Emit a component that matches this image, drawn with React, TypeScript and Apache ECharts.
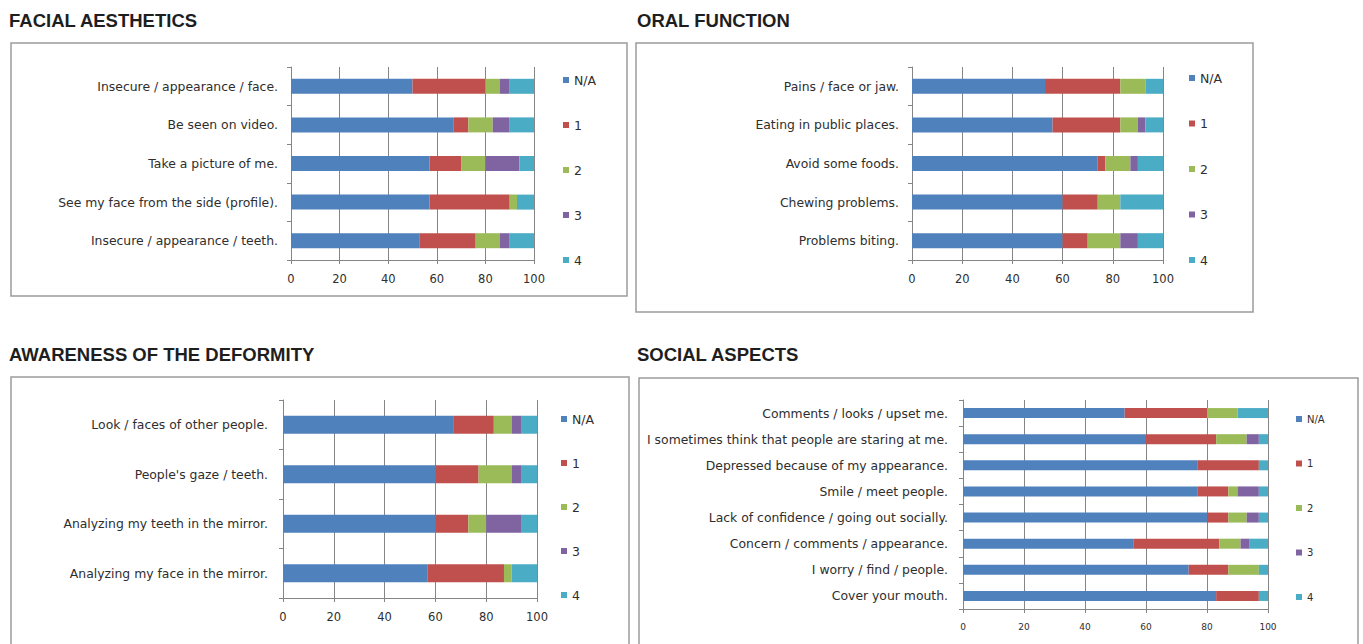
import React, { useEffect, useRef } from "react";
import * as echarts from "echarts";

const seriesNames = ["N/A", "1", "2", "3", "4"];
const seriesColors = ["#4F81BD", "#C0504D", "#9BBB59", "#8064A2", "#4BACC6"];
const xTicks = [0, 20, 40, 60, 80, 100];

const panelTitles = ["FACIAL AESTHETICS", "ORAL FUNCTION", "AWARENESS OF THE DEFORMITY", "SOCIAL ASPECTS"];

const facialCategories = [
  "Insecure / appearance / face.",
  "Be seen on video.",
  "Take a picture of me.",
  "See my face from the side (profile).",
  "Insecure / appearance / teeth.",
];
const facialNA = [50, 67, 57, 57, 53];
const facial1 = [30, 6, 13, 33, 23];
const facial2 = [6, 10, 10, 3, 10];
const facial3 = [4, 7, 14, 0, 4];
const facial4 = [10, 10, 6, 7, 10];

const oralCategories = [
  "Pains / face or jaw.",
  "Eating in public places.",
  "Avoid some foods.",
  "Chewing problems.",
  "Problems biting.",
];
const oralNA = [53, 56, 74, 60, 60];
const oral1 = [30, 27, 3, 14, 10];
const oral2 = [10, 7, 10, 9, 13];
const oral3 = [0, 3, 3, 0, 7];
const oral4 = [7, 7, 10, 17, 10];

const awareCategories = [
  "Look / faces of other people.",
  "People's gaze / teeth.",
  "Analyzing my teeth in the mirror.",
  "Analyzing my face in the mirror.",
];
const awareNA = [67, 60, 60, 57];
const aware1 = [16, 17, 13, 30];
const aware2 = [7, 13, 7, 3];
const aware3 = [4, 4, 14, 0];
const aware4 = [6, 6, 6, 10];

const socialCategories = [
  "Comments / looks / upset me.",
  "I sometimes think that people are staring at me.",
  "Depressed because of my appearance.",
  "Smile / meet people.",
  "Lack of confidence / going out socially.",
  "Concern / comments / appearance.",
  "I worry / find / people.",
  "Cover your mouth.",
];
const socialNA = [53, 60, 77, 77, 80, 56, 74, 83];
const social1 = [27, 23, 20, 10, 7, 28, 13, 14];
const social2 = [10, 10, 0, 3, 6, 7, 10, 0];
const social3 = [0, 4, 0, 7, 4, 3, 0, 0];
const social4 = [10, 3, 3, 3, 3, 6, 3, 3];

const FONT = "'DejaVu Sans', 'Open Sans', sans-serif";
const TEXT = "#2e2e2e";
const GRIDLINE = "#858585";

export default function App() {
  const ref = useRef<HTMLDivElement>(null);

  useEffect(() => {
    if (!ref.current) return;
    const chart = echarts.init(ref.current, null, { renderer: "svg" });

    const panels = [
      { cats: facialCategories, data: [facialNA, facial1, facial2, facial3, facial4],
        grid: { left: 291, top: 67, width: 243, height: 193 }, barWidth: 15, labelSize: 12.4, axisSize: 11.5, labelMargin: 13, axisMargin: 13,
        legend: { left: 563, top: 73, gap: 31, size: 12.5, lh: 14 } },
      { cats: oralCategories, data: [oralNA, oral1, oral2, oral3, oral4],
        grid: { left: 912, top: 67, width: 251, height: 193 }, barWidth: 15, labelSize: 12.4, axisSize: 11.5, labelMargin: 13, axisMargin: 13,
        legend: { left: 1189, top: 71, gap: 31.5, size: 12.5, lh: 14 } },
      { cats: awareCategories, data: [awareNA, aware1, aware2, aware3, aware4],
        grid: { left: 283, top: 400, width: 254, height: 198 }, barWidth: 18, labelSize: 12.4, axisSize: 11.5, labelMargin: 15, axisMargin: 13,
        legend: { left: 561, top: 412, gap: 30, size: 12.5, lh: 14 } },
      { cats: socialCategories, data: [socialNA, social1, social2, social3, social4],
        grid: { left: 963, top: 400, width: 305, height: 209 }, barWidth: 10, labelSize: 12.4, axisSize: 9, labelMargin: 15, axisMargin: 13,
        legend: { left: 1296, top: 413, gap: 32.5, size: 10, lh: 12 } },
    ];

    const grids: any[] = [];
    const xAxes: any[] = [];
    const yAxes: any[] = [];
    const series: any[] = [];
    const legends: any[] = [];

    panels.forEach((p, i) => {
      grids.push({ ...p.grid, containLabel: false });
      xAxes.push({
        type: "value",
        gridIndex: i,
        min: xTicks[0],
        max: xTicks[xTicks.length - 1],
        interval: xTicks[1] - xTicks[0],
        axisLine: { show: true, lineStyle: { color: GRIDLINE, width: 1 } },
        axisTick: { show: true, length: 4, lineStyle: { color: GRIDLINE } },
        axisLabel: { color: TEXT, fontSize: p.axisSize, fontFamily: FONT, margin: p.axisMargin },
        splitLine: { show: true, lineStyle: { color: GRIDLINE, width: 1 } },
      });
      yAxes.push({
        type: "category",
        gridIndex: i,
        inverse: true,
        data: p.cats,
        axisLine: { show: true, lineStyle: { color: GRIDLINE, width: 1 } },
        axisTick: { show: true, length: 4, lineStyle: { color: GRIDLINE } },
        axisLabel: { color: TEXT, fontSize: p.labelSize, fontFamily: FONT, margin: p.labelMargin },
        splitLine: { show: false },
      });
      p.data.forEach((arr, k) => {
        series.push({
          type: "bar",
          name: seriesNames[k],
          xAxisIndex: i,
          yAxisIndex: i,
          stack: "panel" + i,
          barWidth: p.barWidth,
          data: arr,
          itemStyle: { color: seriesColors[k] },
        });
      });
      legends.push({
        orient: "vertical",
        left: p.legend.left,
        top: p.legend.top,
        padding: 0,
        itemGap: p.legend.gap,
        itemWidth: 6,
        itemHeight: 6,
        icon: "rect",
        data: seriesNames,
        textStyle: { color: TEXT, fontSize: p.legend.size, fontFamily: FONT, lineHeight: p.legend.lh },
      });
    });

    const boxStyle = { fill: "none", stroke: "#9c9c9c", lineWidth: 1.5 };
    const titleStyle = (t: string) => ({
      text: t,
      fill: "#1e1e1e",
      font: "bold 18.5px 'Liberation Sans', Arial, sans-serif",
      verticalAlign: "middle",
    });

    chart.setOption({
      animation: false,
      backgroundColor: "#ffffff",
      color: seriesColors,
      grid: grids,
      xAxis: xAxes,
      yAxis: yAxes,
      series,
      legend: legends,
      graphic: [
        { type: "rect", shape: { x: 11, y: 43, width: 616, height: 253 }, style: boxStyle, silent: true },
        { type: "rect", shape: { x: 636, y: 43, width: 617, height: 269 }, style: boxStyle, silent: true },
        { type: "rect", shape: { x: 11, y: 377, width: 618, height: 290 }, style: boxStyle, silent: true },
        { type: "rect", shape: { x: 639, y: 378, width: 719, height: 290 }, style: boxStyle, silent: true },
        { type: "text", x: 9, y: 20, style: titleStyle(panelTitles[0]) },
        { type: "text", x: 637, y: 20, style: titleStyle(panelTitles[1]) },
        { type: "text", x: 9, y: 354, style: titleStyle(panelTitles[2]) },
        { type: "text", x: 637, y: 354, style: titleStyle(panelTitles[3]) },
      ],
    });

    return () => chart.dispose();
  }, []);

  return (
    <div
      ref={ref}
      style={{ position: "fixed", left: 0, top: 0, width: 1363, height: 644, background: "#fff" }}
    />
  );
}
